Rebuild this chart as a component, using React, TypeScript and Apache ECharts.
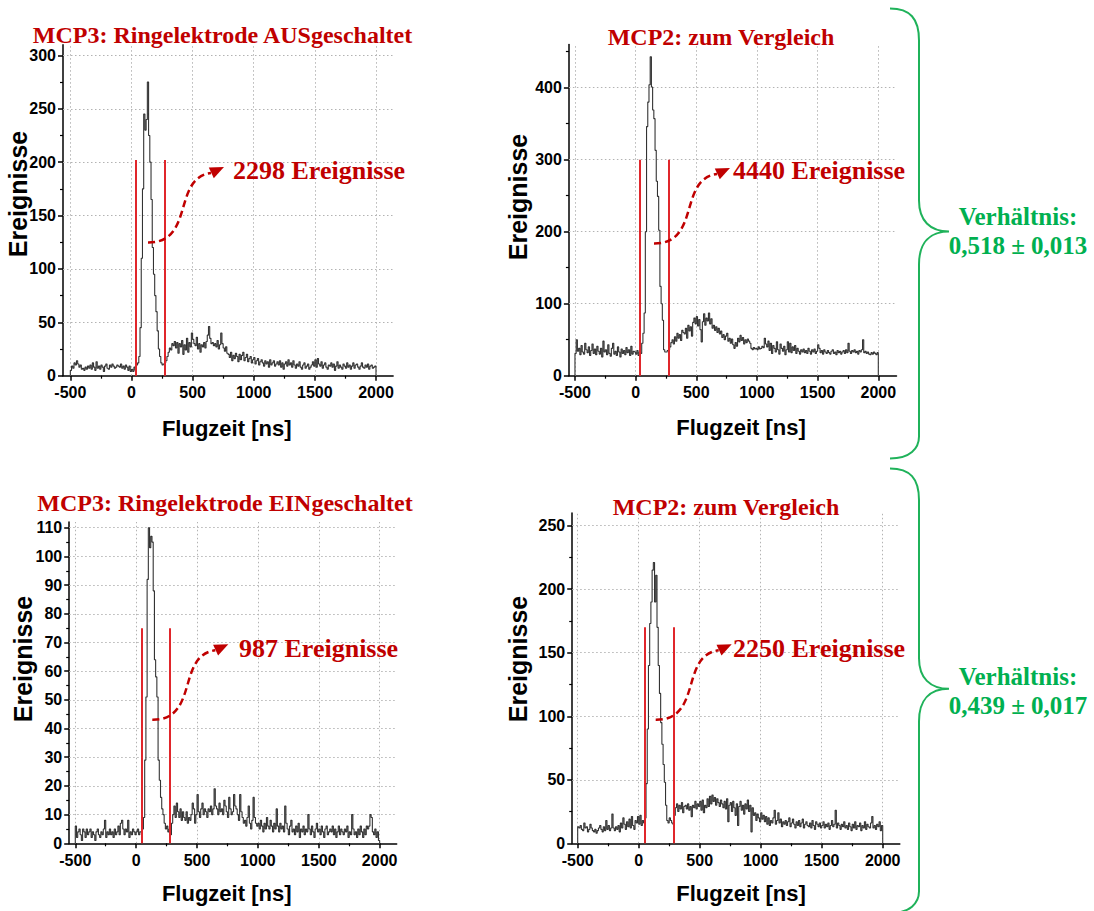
import React, { useEffect, useRef } from "react";
import * as echarts from "echarts";

// ---------- data ----------
const BIN_START = -500;
const BIN_WIDTH = 10;
const BIN_END = 2000;

// MCP3, ring electrode OFF (10 ns bins from -500 ns)
const mcp3AusCounts = [
  5, 9, 7, 12, 10, 14, 11, 8, 10, 6,
  7, 5, 8, 6, 9, 7, 10, 6, 12, 8,
  5, 13, 7, 9, 6, 10, 8, 4, 9, 11,
  7, 6, 10, 8, 11, 9, 7, 8, 10, 9,
  8, 11, 7, 9, 6, 10, 8, 5, 9, 4,
  6, 4, 8, 5, 10, 12, 18, 45, 110, 175,
  245, 230, 240, 275, 225, 200, 165, 120, 95, 75,
  60, 42, 25, 18, 12, 10, 11, 12, 14, 18,
  22, 26, 24, 30, 28, 32, 26, 31, 21, 30,
  27, 33, 20, 29, 24, 35, 22, 31, 27, 40,
  34, 30, 28, 36, 25, 30, 22, 29, 27, 31,
  26, 32, 38, 46, 35, 30, 31, 28, 30, 27,
  33, 25, 29, 40, 30, 26, 23, 27, 21, 20,
  17, 22, 14, 19, 16, 21, 18, 13, 20, 15,
  19, 22, 14, 17, 20, 13, 16, 18, 12, 15,
  17, 11, 14, 16, 10, 13, 15, 12, 9, 14,
  11, 13, 8, 15, 10, 12, 14, 9, 11, 13,
  10, 14, 8, 12, 6, 11, 13, 9, 15, 10,
  12, 8, 14, 10, 7, 11, 9, 13, 8, 6,
  10, 12, 7, 9, 11, 6, 8, 10, 13, 9,
  15, 8, 16, 11, 9, 13, 7, 10, 12, 8,
  6, 10, 9, 12, 8, 11, 5, 9, 13, 7,
  10, 8, 6, 11, 9, 7, 12, 8, 10, 6,
  9, 12, 7, 10, 11, 8, 6, 9, 12, 8,
  7, 10, 8, 11, 6, 9, 10, 7, 8, 9,
];

// MCP2, comparison (top)
const mcp2TopCounts = [
  31, 50, 34, 38, 29, 42, 33, 30, 45, 36,
  32, 40, 28, 35, 44, 31, 37, 29, 41, 34,
  30, 38, 26, 48, 33, 36, 29, 43, 31, 27,
  38, 45, 30, 34, 28, 40, 33, 26, 37, 31,
  35, 29, 39, 32, 36, 28, 41, 30, 34, 33,
  30, 35, 28, 33, 31, 45, 59, 87, 200, 346,
  380, 404, 443, 401, 369, 357, 313, 270, 249, 202,
  124, 100, 77, 36, 33, 33, 35, 36, 40, 46,
  50, 44, 54, 48, 59, 52, 57, 49, 63, 60,
  58, 66, 52, 70, 62, 68, 55, 74, 80, 72,
  82, 69, 78, 64, 47, 75, 86, 70, 80, 76,
  87, 72, 79, 66, 70, 63, 68, 60, 66, 58,
  62, 53, 57, 50, 55, 59, 48, 52, 45, 51,
  43, 38, 46, 41, 52, 47, 56, 49, 53, 44,
  50, 46, 51, 48, 45, 38, 36, 39, 37, 38,
  36, 40, 37, 38, 41, 39, 52, 44, 40, 48,
  35, 45, 31, 42, 38, 33, 47, 36, 30, 44,
  38, 34, 41, 29, 36, 47, 33, 45, 32, 40,
  35, 42, 31, 38, 34, 30, 36, 33, 37, 32,
  35, 31, 38, 34, 30, 36, 33, 37, 31, 34,
  43, 38, 32, 35, 30, 36, 33, 31, 35, 32,
  30, 34, 36, 31, 33, 29, 35, 32, 34, 30,
  33, 35, 31, 36, 32, 45, 34, 31, 35, 33,
  36, 32, 34, 30, 35, 33, 36, 50, 32, 34,
  31, 33, 30, 29, 32, 30, 33, 31, 29, 32,
];

// MCP3, ring electrode ON
const mcp3EinCounts = [
  6, 2, 4, 5, 3, 1, 5, 4, 2, 5,
  3, 4, 5, 2, 4, 3, 1, 4, 5, 3,
  2, 4, 3, 5, 8, 2, 4, 3, 5, 3,
  4, 2, 5, 3, 4, 6, 3, 7, 8, 5,
  3, 5, 4, 8, 2, 4, 3, 5, 4, 3,
  4, 5, 3, 4, 4, 5, 9, 29, 51, 92,
  110, 103, 107, 105, 88, 64, 58, 51, 29, 22,
  16, 12, 10, 7, 5, 6, 4, 5, 3, 7,
  10, 13, 9, 14, 11, 9, 12, 8, 11, 9,
  8, 11, 7, 9, 8, 10, 14, 12, 7, 10,
  17, 11, 9, 12, 14, 10, 12, 11, 9, 12,
  11, 13, 10, 12, 19, 13, 12, 10, 14, 11,
  12, 10, 15, 13, 11, 9, 16, 12, 10, 11,
  17, 13, 12, 10, 8, 17, 11, 9, 7, 8,
  6, 9, 13, 7, 5, 8, 16, 9, 7, 6,
  7, 5, 8, 6, 4, 7, 5, 9, 6, 5,
  8, 6, 4, 7, 5, 12, 6, 4, 7, 5,
  6, 4, 13, 7, 5, 3, 6, 8, 4, 5,
  3, 6, 4, 7, 2, 5, 4, 6, 3, 5,
  4, 10, 5, 3, 6, 4, 2, 5, 7, 4,
  5, 3, 6, 4, 2, 5, 6, 3, 4, 5,
  4, 6, 3, 5, 2, 4, 6, 3, 5, 4,
  3, 5, 4, 6, 2, 4, 3, 10, 5, 3,
  4, 2, 5, 3, 6, 4, 2, 5, 3, 6,
  5, 6, 10, 9, 4, 3, 5, 2, 4, 1,
];

// MCP2, comparison (bottom)
const mcp2BottomCounts = [
  13, 12, 14, 11, 10, 16, 12, 13, 9, 11,
  15, 12, 10, 9, 11, 8, 10, 12, 14, 11,
  9, 13, 10, 18, 11, 14, 10, 12, 23, 12,
  10, 13, 11, 14, 9, 16, 12, 20, 15, 11,
  17, 13, 19, 12, 21, 14, 11, 18, 16, 21,
  15, 22, 14, 18, 16, 20, 47, 90, 140, 173,
  190, 215, 221, 190, 211, 170, 140, 118, 95, 78,
  62, 48, 30, 18, 16, 20, 18, 16, 15, 22,
  28, 31, 25, 30, 27, 32, 24, 29, 30, 27,
  31, 26, 29, 21, 30, 28, 33, 27, 31, 29,
  33, 26, 34, 24, 30, 28, 35, 29, 37, 31,
  38, 33, 36, 30, 35, 32, 29, 34, 31, 28,
  33, 27, 35, 17, 30, 32, 25, 33, 28, 22,
  31, 14, 29, 33, 26, 30, 23, 31, 27, 34,
  25, 30, 9, 28, 22, 24, 18, 23, 20, 17,
  24, 19, 22, 17, 21, 15, 20, 14, 18, 16,
  20, 26, 15, 18, 24, 16, 19, 13, 17, 15,
  18, 14, 17, 20, 13, 16, 19, 15, 12, 17,
  14, 18, 13, 16, 19, 12, 15, 17, 14, 13,
  16, 12, 18, 14, 11, 17, 15, 13, 16, 12,
  14, 17, 12, 15, 13, 16, 11, 14, 18, 13,
  15, 26, 12, 16, 14, 11, 15, 13, 17, 12,
  14, 11, 16, 13, 10, 15, 12, 17, 11, 14,
  13, 16, 10, 14, 12, 17, 11, 15, 13, 12,
  16, 21, 12, 14, 11, 15, 13, 17, 10, 14,
];

const panelTitles = [
  "MCP3: Ringelektrode AUSgeschaltet",
  "MCP2: zum Vergleich",
  "MCP3: Ringelektrode EINgeschaltet",
  "MCP2: zum Vergleich",
];
const eventLabels = ["2298 Ereignisse", "4440 Ereignisse", "987 Ereignisse", "2250 Ereignisse"];
const gateStartNs = [35, 30, 50, 52];
const gateEndNs = [270, 269, 277, 284];
const gateHeight = [202, 300, 75, 170];

const xMajorTicks = [-500, 0, 500, 1000, 1500, 2000];
const xMinorTicks = [-250, 250, 750, 1250, 1750];
const yMajorTicks = [
  [0, 50, 100, 150, 200, 250, 300],
  [0, 100, 200, 300, 400],
  [0, 10, 20, 30, 40, 50, 60, 70, 80, 90, 100, 110],
  [0, 50, 100, 150, 200, 250],
];
const yMinorTicks = [
  [25, 75, 125, 175, 225, 275],
  [50, 150, 250, 350, 450],
  [5, 15, 25, 35, 45, 55, 65, 75, 85, 95, 105],
  [25, 75, 125, 175, 225],
];
const xAxisName = "Flugzeit [ns]";
const yAxisName = "Ereignisse";
const ratioHeader = "Verhältnis:";
const ratioValues = ["0,518 ± 0,013", "0,439 ± 0,017"];

// ---------- layout ----------
const LAYOUT = [
  { left: 63, top: 44.7, width: 330.1, height: 331, xMin: -560, xMax: 2140, yMax: 310,
    title: [222.5, 35], note: [233, 170], tip: [224, 167], yName: [17.5, 194], xName: [226.7, 428] },
  { left: 568.9, top: 44.5, width: 327.6, height: 331.2, xMin: -550, xMax: 2150, yMax: 460,
    title: [721, 37], note: [733, 170], tip: [730, 168], yName: [518, 197], xName: [741, 427] },
  { left: 69.2, top: 522, width: 327.5, height: 321.3, xMin: -550, xMax: 2140, yMax: 112,
    title: [225, 503], note: [239, 648], tip: [228.3, 644.3], yName: [22.5, 659], xName: [226.7, 893] },
  { left: 572.2, top: 513, width: 327.6, height: 330.3, xMin: -545, xMax: 2140, yMax: 260,
    title: [726, 507], note: [733, 648], tip: [731.7, 644.3], yName: [518, 659], xName: [741, 893] },
];

const DARK_RED = "#c00000";
const GATE_RED = "#e0262b";
const GREEN = "#00b050";
const SERIF = '"Liberation Serif", "Times New Roman", serif';
const SANS = '"Liberation Sans", Arial, sans-serif';

function histogramData(counts: number[]) {
  const pts: number[][] = [[BIN_START, 0]];
  counts.forEach((v, i) => pts.push([BIN_START + i * BIN_WIDTH, v]));
  pts.push([BIN_END, 0]);
  return pts;
}

const BRACE_D =
  "M 0 0 C 20 0 29 10 29 32 L 29 192 C 29 212 40 223 59 223 C 40 223 29 234 29 256 L 29 428 C 29 440 20 450 0 450";

export default function App() {
  const ref = useRef<HTMLDivElement>(null);

  useEffect(() => {
    if (!ref.current) return;
    try {
      echarts.graphic.registerShape("brace", echarts.graphic.extendPath(BRACE_D, {}) as any);
    } catch (e) {}
    const chart = echarts.init(ref.current, undefined, { renderer: "svg" });
    const allCounts = [mcp3AusCounts, mcp2TopCounts, mcp3EinCounts, mcp2BottomCounts];

    const grids: any[] = [];
    const xAxes: any[] = [];
    const yAxes: any[] = [];
    const series: any[] = [];
    const graphics: any[] = [];

    const labelStyle = {
      fontFamily: SANS, fontWeight: "bold", fontSize: 16, color: "#000",
      formatter: (v: number) => String(v),
    };

    LAYOUT.forEach((L, p) => {
      grids.push({ left: L.left, top: L.top, width: L.width, height: L.height, containLabel: false });
      xAxes.push({
        type: "value", gridIndex: p, min: L.xMin, max: L.xMax, position: "bottom",
        axisLine: { show: true, onZero: false, lineStyle: { color: "#000", width: 1.5 } },
        axisTick: { show: true, inside: false, length: 5, customValues: xMajorTicks, lineStyle: { color: "#000", width: 1.5 } },
        axisLabel: { ...labelStyle, margin: 9, customValues: xMajorTicks },
        splitLine: { show: false },
      });
      xAxes.push({
        type: "value", gridIndex: p, min: L.xMin, max: L.xMax, position: "bottom",
        axisLine: { show: false, onZero: false },
        axisTick: { show: true, length: 3, customValues: xMinorTicks, lineStyle: { color: "#000", width: 1.2 } },
        axisLabel: { show: false },
        splitLine: { show: false },
      });
      yAxes.push({
        type: "value", gridIndex: p, min: 0, max: L.yMax, position: "left",
        axisLine: { show: true, onZero: false, lineStyle: { color: "#000", width: 1.5 } },
        axisTick: { show: true, inside: false, length: 5, customValues: yMajorTicks[p], lineStyle: { color: "#000", width: 1.5 } },
        axisLabel: { ...labelStyle, margin: 7, customValues: yMajorTicks[p] },
        splitLine: { show: false },
      });
      yAxes.push({
        type: "value", gridIndex: p, min: 0, max: L.yMax, position: "left",
        axisLine: { show: false, onZero: false },
        axisTick: { show: true, length: 3, customValues: yMinorTicks[p], lineStyle: { color: "#000", width: 1.2 } },
        axisLabel: { show: false },
        splitLine: { show: false },
      });

      const gridLines: any[] = [];
      xMajorTicks.forEach((x) => gridLines.push([{ coord: [x, 0] }, { coord: [x, L.yMax] }]));
      yMajorTicks[p].filter((y) => y > 0).forEach((y) =>
        gridLines.push([{ coord: [L.xMin, y] }, { coord: [L.xMax, y] }])
      );
      series.push({
        type: "line", xAxisIndex: 2 * p, yAxisIndex: 2 * p, data: [], silent: true, z: 1,
        markLine: {
          silent: true, symbol: "none", animation: false, z: 1,
          label: { show: false },
          lineStyle: { color: "#b3b3b3", width: 1, type: [1.5, 2.5] },
          data: gridLines,
        },
      });

      series.push({
        type: "line", xAxisIndex: 2 * p, yAxisIndex: 2 * p, step: "end",
        data: histogramData(allCounts[p]), showSymbol: false, symbol: "none",
        lineStyle: { color: "#333333", width: 1.1 }, silent: true, z: 3,
        markLine: {
          silent: true, symbol: "none", animation: false, z: 4,
          label: { show: false },
          lineStyle: { color: GATE_RED, width: 2, type: "solid" },
          data: [
            [{ coord: [gateStartNs[p], 0] }, { coord: [gateStartNs[p], gateHeight[p]] }],
            [{ coord: [gateEndNs[p], 0] }, { coord: [gateEndNs[p], gateHeight[p]] }],
          ],
        },
      });

      graphics.push({
        type: "text", x: L.title[0], y: L.title[1], z: 10,
        style: { text: panelTitles[p], fill: DARK_RED, fontFamily: SERIF, fontWeight: "bold", fontSize: 24, align: "center", verticalAlign: "middle" },
      });
      graphics.push({
        type: "text", x: L.note[0], y: L.note[1], z: 10,
        style: { text: eventLabels[p], fill: DARK_RED, fontFamily: SERIF, fontWeight: "bold", fontSize: 26, align: "left", verticalAlign: "middle" },
      });
      graphics.push({
        type: "text", x: L.xName[0], y: L.xName[1], z: 10,
        style: { text: xAxisName, fill: "#000", fontFamily: SANS, fontWeight: "bold", fontSize: 22, align: "center", verticalAlign: "middle" },
      });
      graphics.push({
        type: "text", x: L.yName[0], y: L.yName[1], rotation: Math.PI / 2, z: 10,
        style: { text: yAxisName, fill: "#000", fontFamily: SANS, fontWeight: "bold", fontSize: 25, align: "center", verticalAlign: "middle" },
      });
      const [tx, ty] = L.tip;
      graphics.push({
        type: "bezierCurve", z: 9,
        shape: { x1: tx - 76, y1: ty + 75.5, cpx1: tx - 29, cpy1: ty + 76, cpx2: tx - 52, cpy2: ty + 11, x2: tx - 13, y2: ty + 6 },
        style: { stroke: DARK_RED, lineWidth: 2.5, lineDash: [7, 4], fill: "none" },
      });
      graphics.push({
        type: "polygon", z: 9,
        shape: { points: [[tx, ty], [tx - 15.2, ty + 0.5], [tx - 10.2, ty + 11.3]] },
        style: { fill: DARK_RED },
      });
    });

    const braceTops = [8.5, 468.5];
    const braceScale = [1, 0.988];
    const ratioCenterY = [231, 690.5];
    braceTops.forEach((top, i) => {
      graphics.push({
        type: "brace", x: 890, y: top, scaleX: 1, scaleY: braceScale[i], z: 10,
        style: { stroke: "#1fb25a", lineWidth: 2, fill: "none" },
      });
      graphics.push({
        type: "text", x: 1018, y: ratioCenterY[i], z: 10,
        style: {
          text: ratioHeader + "\n" + ratioValues[i], fill: GREEN, fontFamily: SERIF, fontWeight: "bold",
          fontSize: 25, lineHeight: 29, align: "center", verticalAlign: "middle",
        },
      });
    });

    chart.setOption({
      animation: false,
      backgroundColor: "#ffffff",
      grid: grids,
      xAxis: xAxes,
      yAxis: yAxes,
      series,
      graphic: graphics,
    });
    return () => chart.dispose();
  }, []);

  return (
    <div
      ref={ref}
      style={{ position: "absolute", left: 0, top: 0, width: 1094, height: 911, background: "#fff" }}
    />
  );
}
